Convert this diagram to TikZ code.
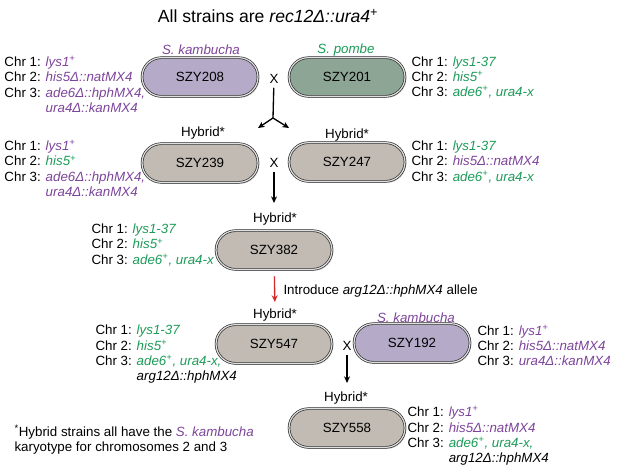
\documentclass[tikz,border=0pt]{standalone}
\usepackage{fontspec}
\setmainfont{Liberation Sans}
\usetikzlibrary{arrows.meta,shapes.misc,shadows}

\definecolor{purp}{RGB}{125,68,155}
\definecolor{grn}{RGB}{28,155,88}
\definecolor{kambfill}{RGB}{181,171,201}
\definecolor{pombefill}{RGB}{141,165,148}
\definecolor{hybfill}{RGB}{193,187,179}
\definecolor{redarrow}{RGB}{212,40,40}

\newcommand{\wt}{\textsuperscript{+}}
\newcommand{\kb}[1]{\textcolor{purp}{\textit{#1}}}
\newcommand{\pb}[1]{\textcolor{grn}{\textit{#1}}}
\newcommand{\chrfont}{\fontsize{10}{11.5}\selectfont}

\tikzset{every picture/.style={line width=0.75pt}}
\tikzset{
  cell/.style={rounded rectangle, minimum width=87pt, minimum height=29pt, inner sep=0pt,
    draw=black!85, line width=0.5pt, double=black!12, double distance=0.9pt,
    drop shadow={opacity=0.3, shadow xshift=1pt, shadow yshift=-1.2pt}, font=\chrfont},
  chr/.style={anchor=west, align=left, inner sep=0.75pt, font=\chrfont},
  lbl/.style={inner sep=0.75pt, font=\chrfont},
  arr/.style={line width=1pt, -{Stealth[length=5pt,width=4.5pt]}},
}

\begin{document}
\begin{tikzpicture}[x=0.75pt,y=0.75pt,yscale=-1,xscale=1]
	\useasboundingbox (0,0) rectangle (617,467);
	
	% Text Node
	\draw (268,16) node [inner sep=0.75pt, font=\fontsize{13.2}{15}\selectfont] (title) {All strains are \textit{rec12Δ::ura4\wt}};
	
	%Shape: Capsule (parents)
	\draw (200,77) node [cell, fill=kambfill] (szy208) {SZY208};
	\draw (347,77) node [cell, fill=pombefill] (szy201) {SZY201};
	% Text Node
	\draw (201,50) node [lbl, text=purp, font=\chrfont\itshape] (kamb1) {S. kambucha};
	\draw (346,50) node [lbl, text=grn, font=\chrfont\itshape] (pombe1) {S. pombe};
	\draw (274,79) node [lbl] (x1) {X};
	% Text Node
	\draw (3,84.5) node [chr] (gen208) {Chr 1: \kb{lys1\wt}\\ Chr 2: \kb{his5Δ::natMX4}\\ Chr 3: \kb{ade6Δ::hphMX4,}\\ \hphantom{Chr 3: }\kb{ura4Δ::kanMX4}};
	\draw (410,77.5) node [chr] (gen201) {Chr 1: \pb{lys1-37}\\ Chr 2: \pb{his5\wt}\\ Chr 3: \pb{ade6\wt, ura4-x}};
	
	%Straight Lines (split)
	\coordinate (split) at (273,118);
	\coordinate (splitl) at (258,128);
	\coordinate (splitr) at (289,128);
	\draw [line width=1pt, shorten <=2pt] (x1) -- (split);
	\draw [arr] (split) -- (splitl);
	\draw [arr] (split) -- (splitr);
	
	%Shape: Capsule (first hybrids)
	\draw (200,163) node [cell, fill=hybfill] (szy239) {SZY239};
	\draw (347,162) node [cell, fill=hybfill] (szy247) {SZY247};
	% Text Node
	\draw (203,133) node [lbl] (h239) {Hybrid*};
	\draw (347,135) node [lbl] (h247) {Hybrid*};
	\draw (274,163) node [lbl] (x2) {X};
	% Text Node
	\draw (3,168.5) node [chr] (gen239) {Chr 1: \kb{lys1\wt}\\ Chr 2: \pb{his5\wt}\\ Chr 3: \kb{ade6Δ::hphMX4,}\\ \hphantom{Chr 3: }\kb{ura4Δ::kanMX4}};
	\draw (410,162) node [chr] (gen247) {Chr 1: \pb{lys1-37}\\ Chr 2: \kb{his5Δ::natMX4}\\ Chr 3: \pb{ade6\wt, ura4-x}};
	
	%Straight Lines
	\coordinate (d2) at (274,203);
	\draw [arr, shorten <=2pt] (x2) -- (d2);
	
	%Shape: Capsule
	\draw (274,250) node [cell, fill=hybfill] (szy382) {SZY382};
	% Text Node
	\draw (275,219) node [lbl] (h382) {Hybrid*};
	\draw (90,245) node [chr] (gen382) {Chr 1: \pb{lys1-37}\\ Chr 2: \pb{his5\wt}\\ Chr 3: \pb{ade6\wt, ura4-x}};
	
	%Shape: Capsule
	\draw (274,344) node [cell, fill=hybfill] (szy547) {SZY547};
	\draw (412,343) node [cell, fill=kambfill] (szy192) {SZY192};
	% Text Node
	\draw (275,315) node [lbl] (h547) {Hybrid*};
	\draw (416,318) node [lbl, text=purp, font=\chrfont\itshape] (kamb2) {S. kambucha};
	\draw (347,346) node [lbl] (x3) {X};
	
	%Straight Lines (red)
	\draw [arr, draw=redarrow, shorten <=5pt, shorten >=4pt] (szy382) -- (h547);
	% Text Node
	\draw (282,291) node [anchor=west, inner sep=0.75pt, font=\chrfont] (intro) {Introduce \textit{arg12Δ::hphMX4} allele};
	
	% Text Node
	\draw (94,354.5) node [chr] (gen547) {Chr 1: \pb{lys1-37}\\ Chr 2: \pb{his5\wt}\\ Chr 3: \pb{ade6\wt, ura4-x,}\\ \hphantom{Chr 3: }\textit{arg12Δ::hphMX4}};
	\draw (476,345.5) node [chr] (gen192) {Chr 1: \kb{lys1\wt}\\ Chr 2: \kb{his5Δ::natMX4}\\ Chr 3: \kb{ura4Δ::kanMX4}};
	
	%Straight Lines
	\coordinate (d3) at (347,383);
	\draw [arr, shorten <=2pt] (x3) -- (d3);
	
	%Shape: Capsule
	\draw (347,428) node [cell, fill=hybfill] (szy558) {SZY558};
	% Text Node
	\draw (346,398) node [lbl] (h558) {Hybrid*};
	\draw (406,436) node [chr] (gen558) {Chr 1: \kb{lys1\wt}\\ Chr 2: \kb{his5Δ::natMX4}\\ Chr 3: \pb{ade6\wt, ura4-x,}\\ \hphantom{Chr 3: }\textit{arg12Δ::hphMX4}};
	
	% Text Node
	\draw (13,440) node [chr, font=\fontsize{10}{11.25}\selectfont] (note) {\textsuperscript{*}Hybrid strains all have the \kb{S. kambucha}\\ karyotype for chromosomes 2 and 3};
	
\end{tikzpicture}
\end{document}
